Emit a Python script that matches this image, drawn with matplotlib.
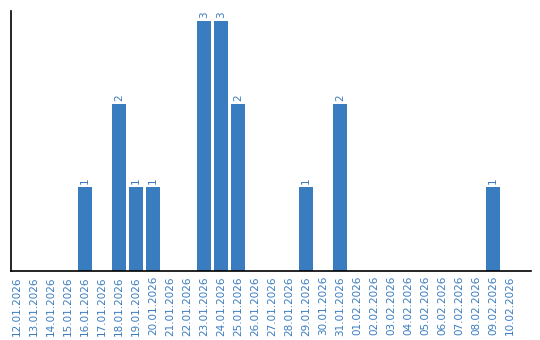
import matplotlib
matplotlib.use("Agg")
import matplotlib.pyplot as plt

dates = ["12.01.2026", "13.01.2026", "14.01.2026", "15.01.2026", "16.01.2026",
         "17.01.2026", "18.01.2026", "19.01.2026", "20.01.2026", "21.01.2026",
         "22.01.2026", "23.01.2026", "24.01.2026", "25.01.2026", "26.01.2026",
         "27.01.2026", "28.01.2026", "29.01.2026", "30.01.2026", "31.01.2026",
         "01.02.2026", "02.02.2026", "03.02.2026", "04.02.2026", "05.02.2026",
         "06.02.2026", "07.02.2026", "08.02.2026", "09.02.2026", "10.02.2026"]
values = [0, 0, 0, 0, 1, 0, 2, 1, 1, 0,
          0, 3, 3, 2, 0, 0, 0, 1, 0, 2,
          0, 0, 0, 0, 0, 0, 0, 0, 1, 0]

blue = "#3a7cc0"
fig = plt.figure(figsize=(5.4, 3.4), dpi=100)
ax = fig.add_axes([10.5/540, 1-270.5/340, 520/540, 260/340])
x = list(range(len(dates)))
ax.bar(x, values, width=0.82, color=blue)
for xi, v in zip(x, values):
    if v > 0:
        ax.text(xi, v + 0.035, str(v), rotation=90, ha="center", va="bottom",
                color=blue, fontsize=7.5)
ax.set_xlim(-0.38, 30.2)
ax.set_ylim(0, 3.12)
ax.set_xticks(x)
ax.set_xticklabels(dates, rotation=90, color=blue, fontsize=7.5)
ax.tick_params(axis="x", length=0, pad=4)
ax.set_yticks([])
ax.spines["top"].set_visible(False)
ax.spines["right"].set_visible(False)
ax.spines["left"].set_linewidth(1.2)
ax.spines["bottom"].set_linewidth(1.2)
fig.savefig("out.png", dpi=100)
